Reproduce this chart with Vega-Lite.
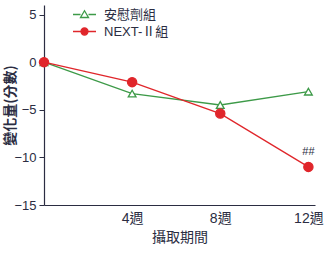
{
  "$schema": "https://vega.github.io/schema/vega-lite/v6.json",
  "width": 271,
  "height": 200,
  "autosize": "none",
  "padding": {"left": 44, "top": 5, "right": 10, "bottom": 48},
  "background": "white",
  "config": {
    "view": {"stroke": null},
    "font": "Liberation Sans",
    "axis": {"grid": false, "domainColor": "#2b2d42", "tickColor": "#2b2d42", "labelColor": "#2b2d42", "titleColor": "#2b2d42", "labelFontSize": 13, "titleFontSize": 14, "titleFontWeight": "normal", "labelFont": "Liberation Sans, Noto Sans CJK TC", "titleFont": "Noto Sans CJK TC"}
  },
  "data": {"values": [
    {"week": 0, "group": "安慰劑組", "value": 0, "note": ""},
    {"week": 4, "group": "安慰劑組", "value": -3.3, "note": ""},
    {"week": 8, "group": "安慰劑組", "value": -4.5, "note": ""},
    {"week": 12, "group": "安慰劑組", "value": -3.1, "note": ""},
    {"week": 0, "group": "NEXT-Ⅱ組", "value": 0, "note": ""},
    {"week": 4, "group": "NEXT-Ⅱ組", "value": -2.1, "note": ""},
    {"week": 8, "group": "NEXT-Ⅱ組", "value": -5.4, "note": ""},
    {"week": 12, "group": "NEXT-Ⅱ組", "value": -11, "note": "##"}
  ]},
  "encoding": {
    "x": {"field": "week", "type": "quantitative", "scale": {"domain": [0, 12.3], "nice": false},
      "axis": {"values": [4, 8, 12], "ticks": false, "labelExpr": "datum.value + '週'", "title": "攝取期間", "labelPadding": 6, "titlePadding": 5, "domainWidth": 1.2, "labelFontSize": 14}},
    "y": {"field": "value", "type": "quantitative", "scale": {"domain": [-15, 6], "nice": false},
      "axis": {"values": [-15, -10, -5, 0, 5], "tickSize": 5, "title": "變化量(分數)", "titleX": -27, "titleFontWeight": "bold", "labelPadding": 3, "domainWidth": 1.2}}
  },
  "layer": [
    {
      "mark": {"type": "line", "strokeWidth": 1.3},
      "encoding": {
        "color": {"field": "group", "type": "nominal", "scale": {"domain": ["安慰劑組", "NEXT-Ⅱ組"], "range": ["#3d9a48", "#e0262b"]},
          "legend": {
            "title": null, "orient": "none", "legendX": 34, "legendY": 3,
            "symbolSize": 100, "labelFontSize": 13, "labelColor": "#2b2d42", "labelFont": "Liberation Sans, Noto Sans CJK TC",
            "labelOffset": 13, "rowPadding": 3, "symbolStrokeWidth": 1.3,
            "encode": {"symbols": {"update": {
              "shape": {"signal": "datum.value === '安慰劑組' ? 'M-2.3,0L-0.8,0M0.8,0L2.3,0M0,-0.75L0.8,0.6L-0.8,0.6Z' : 'M-2.3,0L2.3,0M0.7,0A0.7,0.7 0 1,1 -0.7,0A0.7,0.7 0 1,1 0.7,0Z'"},
              "fill": {"signal": "datum.value === '安慰劑組' ? 'white' : '#e0262b'"},
              "fillOpacity": {"value": 1},
              "stroke": {"signal": "datum.value === '安慰劑組' ? '#3d9a48' : '#e0262b'"},
              "strokeWidth": {"value": 1.3}
            }}}
          }}
      }
    },
    {
      "mark": {"type": "point", "opacity": 1, "strokeWidth": 1.3},
      "encoding": {
        "shape": {"condition": {"test": "datum.group === '安慰劑組'", "value": "triangle-up"}, "value": "circle"},
        "stroke": {"condition": {"test": "datum.group === '安慰劑組'", "value": "#3d9a48"}, "value": "#e0262b"},
        "fill": {"condition": {"test": "datum.group === '安慰劑組'", "value": "white"}, "value": "#e0262b"},
        "size": {"condition": {"test": "datum.group === '安慰劑組'", "value": 60}, "value": 85}
      }
    },
    {
      "mark": {"type": "text", "dy": -15, "fontSize": 11, "color": "#2b2d42", "font": "Liberation Sans", "letterSpacing": 2},
      "encoding": {"text": {"field": "note"}}
    }
  ]
}
